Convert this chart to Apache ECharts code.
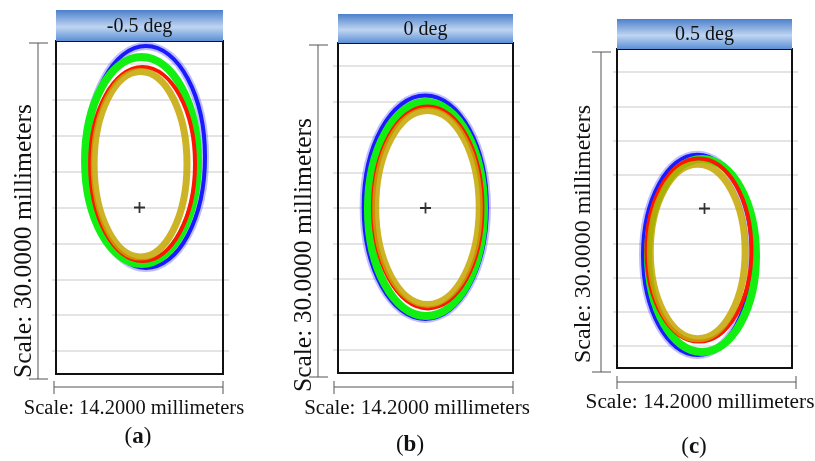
<!DOCTYPE html>
<html><head><meta charset="utf-8">
<script src="https://cdn.jsdelivr.net/npm/echarts@6/dist/echarts.min.js"></script>
<style>html,body{margin:0;padding:0;background:#fff}#c{width:815px;height:461px}</style>
</head><body><div id="c"></div>
<script>
// ---------- data ----------
const panelTitles = ['-0.5 deg', '0 deg', '0.5 deg'];
const panelLetters = ['a', 'b', 'c'];
const xScaleLabel = 'Scale: 14.2000 millimeters';
const yScaleLabel = 'Scale: 30.0000 millimeters';
const xRangeMm = [-7.1, 7.1];
const yRangeMm = [-15, 15];
const ringNames = ['blue', 'green', 'red', 'olive'];
// each ring: [centre x mm, centre y mm, semi-axis x mm, semi-axis y mm]
const ringsA = [[0.55, 4.55, 5.02, 10.0], [0.17, 4.23, 4.80, 9.32], [0.26, 3.92, 4.46, 8.74], [0.09, 3.90, 3.95, 8.36]];
const ringsB = [[-0.02, 0.07, 5.00, 10.15], [0.04, -0.09, 4.71, 9.73], [0.18, 0.05, 4.44, 9.18], [0.16, 0.05, 4.20, 8.82]];
const ringsC = [[-0.57, -4.36, 4.42, 9.41], [-0.20, -4.42, 4.38, 9.08], [-0.45, -3.90, 4.26, 8.61], [-0.55, -4.05, 3.85, 8.20]];
const chiefRay = [0, 0];
const bgLineSteps = [0, 8];

// ---------- styles / layout ----------
const ringStyles = {
  blue:  {color: '#1a1aff', width: 4, halo: 'rgba(70,70,255,0.35)', haloWidth: 8},
  green: {color: '#12f012', width: 8},
  red:   {color: '#ff1400', width: 4},
  olive: {color: 'rgba(196,166,0,0.85)', width: 7}
};
const layout = [
  {box: [56, 41, 167, 333], bg: [52, 64, 177, 287], head: [56, 10, 167, 31],
   vbar: [38, 43, 379], vlab: [24, 241, 25.5], hbar: [387, 54, 223], hlab: [134, 409, 20.5], letter: [138, 437]},
  {box: [338, 43, 175, 330], bg: [333, 66, 187, 284], head: [338, 14, 175, 29],
   vbar: [318, 45, 377], vlab: [304, 255, 25.5], hbar: [387, 334, 513], hlab: [417, 408, 21], letter: [410, 445]},
  {box: [617, 49, 175, 319], bg: [613, 72, 185, 274], head: [617, 19, 175, 30],
   vbar: [601, 52, 372], vlab: [584, 234, 24], hbar: [382, 617, 796], hlab: [700, 402, 21.3], letter: [694, 447]}
];
const allRings = [ringsA, ringsB, ringsC];
const serif = '"Liberation Serif", "Times New Roman", serif';

const grid = [], xAxis = [], yAxis = [], series = [], graphic = [];
layout.forEach((L, p) => {
  // background grey lines grid
  grid.push({left: L.bg[0], top: L.bg[1], width: L.bg[2], height: L.bg[3], show: false, z: 0});
  xAxis.push({gridIndex: 2 * p, type: 'value', min: 0, max: 1, show: false});
  yAxis.push({gridIndex: 2 * p, type: 'value', min: bgLineSteps[0], max: bgLineSteps[1], interval: 1,
    axisLine: {show: false}, axisTick: {show: false}, axisLabel: {show: false},
    splitLine: {show: true, lineStyle: {color: '#e4e4e4', width: 2}}});
  // plot box
  grid.push({left: L.box[0], top: L.box[1], width: L.box[2], height: L.box[3], show: true,
    borderColor: '#111', borderWidth: 2, backgroundColor: 'transparent', z: 2});
  xAxis.push({gridIndex: 2 * p + 1, type: 'value', min: xRangeMm[0], max: xRangeMm[1], show: false});
  yAxis.push({gridIndex: 2 * p + 1, type: 'value', min: yRangeMm[0], max: yRangeMm[1], show: false});

  series.push({
    type: 'custom', xAxisIndex: 2 * p + 1, yAxisIndex: 2 * p + 1, z: 3, clip: false,
    data: allRings[p].map((r, i) => r.concat([i])),
    encode: {x: 0, y: 1},
    renderItem: function (params, api) {
      const c = api.coord([api.value(0), api.value(1)]);
      const s = api.size([api.value(2), api.value(3)]);
      const st = ringStyles[ringNames[api.value(4)]];
      const shape = {cx: c[0], cy: c[1], rx: s[0], ry: s[1]};
      const children = [];
      if (st.halo) children.push({type: 'ellipse', shape: shape, style: {fill: null, stroke: st.halo, lineWidth: st.haloWidth}});
      children.push({type: 'ellipse', shape: shape, style: {fill: null, stroke: st.color, lineWidth: st.width}});
      return {type: 'group', children: children};
    }
  });
  series.push({
    type: 'scatter', xAxisIndex: 2 * p + 1, yAxisIndex: 2 * p + 1, z: 4,
    data: [chiefRay], symbol: 'path://M4.2,0 H5.8 V4.2 H10 V5.8 H5.8 V10 H4.2 V5.8 H0 V4.2 H4.2 Z',
    symbolSize: 11, itemStyle: {color: '#000'}, silent: true
  });

  // header
  graphic.push({type: 'rect', shape: {x: L.head[0], y: L.head[1], width: L.head[2], height: L.head[3]},
    style: {fill: new echarts.graphic.LinearGradient(0, 0, 0, 1, [
      {offset: 0, color: '#4c80cc'}, {offset: 0.55, color: '#bfd5f1'}, {offset: 1, color: '#5b8fd6'}])}, z: 5});
  graphic.push({type: 'text', x: L.head[0] + L.head[2] / 2, y: L.head[1] + L.head[3] / 2 + 1,
    style: {text: panelTitles[p], font: '20px ' + serif, fill: '#111', align: 'center', verticalAlign: 'middle'}, z: 6});
  // vertical scale bar
  const vb = L.vbar;
  graphic.push({type: 'line', shape: {x1: vb[0], y1: vb[1], x2: vb[0], y2: vb[2]}, style: {stroke: '#555', lineWidth: 1}, z: 5});
  graphic.push({type: 'line', shape: {x1: vb[0] - 9, y1: vb[1], x2: vb[0] + 10, y2: vb[1]}, style: {stroke: '#555', lineWidth: 1}, z: 5});
  graphic.push({type: 'line', shape: {x1: vb[0] - 9, y1: vb[2], x2: vb[0] + 10, y2: vb[2]}, style: {stroke: '#555', lineWidth: 1}, z: 5});
  graphic.push({type: 'text', x: L.vlab[0], y: L.vlab[1], rotation: Math.PI / 2,
    style: {text: yScaleLabel, font: L.vlab[2] + 'px ' + serif, fill: '#111', align: 'center', verticalAlign: 'middle'}, z: 6});
  // horizontal scale bar
  const hb = L.hbar;
  graphic.push({type: 'line', shape: {x1: hb[1], y1: hb[0], x2: hb[2], y2: hb[0]}, style: {stroke: '#555', lineWidth: 1}, z: 5});
  graphic.push({type: 'line', shape: {x1: hb[1], y1: hb[0] - 6, x2: hb[1], y2: hb[0] + 7}, style: {stroke: '#555', lineWidth: 1}, z: 5});
  graphic.push({type: 'line', shape: {x1: hb[2], y1: hb[0] - 6, x2: hb[2], y2: hb[0] + 7}, style: {stroke: '#555', lineWidth: 1}, z: 5});
  graphic.push({type: 'text', x: L.hlab[0], y: L.hlab[1],
    style: {text: xScaleLabel, font: L.hlab[2] + 'px ' + serif, fill: '#111', align: 'center', verticalAlign: 'middle'}, z: 6});
  // panel letter
  graphic.push({type: 'text', x: L.letter[0], y: L.letter[1],
    style: {text: '{p|(}{b|' + panelLetters[p] + '}{p|)}', align: 'center', verticalAlign: 'middle',
      rich: {p: {font: '23px ' + serif, fill: '#111'}, b: {font: 'bold 23px ' + serif, fill: '#111'}}}, z: 6});
});

const chart = echarts.init(document.getElementById('c'), null, {renderer: 'canvas'});
chart.setOption({
  backgroundColor: '#fff', animation: false,
  grid: grid, xAxis: xAxis, yAxis: yAxis, series: series, graphic: graphic
});
</script></body></html>
